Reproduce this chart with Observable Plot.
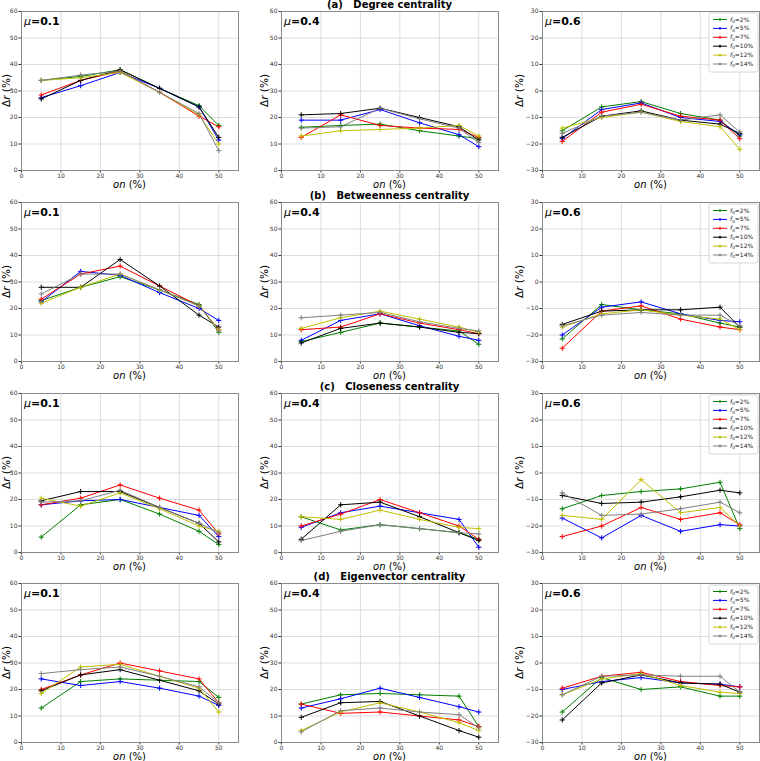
<!DOCTYPE html>
<html><head><meta charset="utf-8">
<script src="https://cdn.jsdelivr.net/npm/d3@7"></script>
<script src="https://cdn.jsdelivr.net/npm/@observablehq/plot@0.6"></script>
<style>
html,body{margin:0;padding:0;background:#fff;overflow:hidden;width:760px;height:761px;}
#root{position:relative;width:760px;height:761px;font-family:"DejaVu Sans",sans-serif;}
.panel{position:absolute;}
.panel svg{overflow:visible;display:block;}
</style></head><body><div id="root"></div>
<script>
// ---- data ----
const onValues = [5, 15, 25, 35, 45, 50];
const seriesNames = ["2%", "5%", "7%", "10%", "12%", "14%"];
const seriesColors = ["#008000", "#0000ff", "#ff0000", "#000000", "#bfbf00", "#808080"];
const xTicks = [0, 10, 20, 30, 40, 50];
const yTicksLow = [0, 10, 20, 30, 40, 50, 60];
const yTicksHigh = [-30, -20, -10, 0, 10, 20, 30];
const rowTitles = ["(a)   Degree centrality", "(b)   Betweenness centrality", "(c)   Closeness centrality", "(d)   Eigenvector centrality"];
const muLabels = ["0.1", "0.4", "0.6"];

// each: [green, blue, red, black, yellow, gray]
const degree01 = [
  [34, 35.5, 38, 31, 24.5, 17],
  [27.5, 32, 37, 31, 24, 11.5],
  [28.5, 34, 37.5, 29.5, 20.5, 16.5],
  [27, 34, 38, 31, 24, 12.5],
  [34, 35, 37, 29.5, 21, 10],
  [34, 36, 37.5, 29.5, 21.5, 7.5]
];
const degree04 = [
  [16.3, 17, 17.5, 15, 13, 12],
  [19, 19, 23, 18, 13.5, 9],
  [12.5, 21, 17, 16, 15.5, 12.5],
  [21, 21.5, 23.5, 20, 16.5, 11.5],
  [13, 15, 15.5, 16, 17, 13],
  [16, 16.5, 23.5, 19.5, 16, 10.5]
];
const degree06 = [
  [-15, -6, -4, -8.5, -11, -17],
  [-18, -7, -4.5, -10, -11.5, -16.5],
  [-19, -8, -5, -9.5, -11, -18],
  [-17.5, -9.5, -7.5, -11, -12.5, -16],
  [-14, -10, -8, -11.5, -13.5, -22],
  [-16, -9.5, -8, -11, -9, -15.5]
];
const between01 = [
  [23, 28, 32, 27, 21.5, 11],
  [22.5, 34, 32.5, 26, 20, 15.5],
  [23.5, 33, 36, 28.5, 21, 12],
  [28, 28, 38.5, 28.5, 17.5, 13],
  [22, 28, 33, 27, 21, 12],
  [25.5, 33, 33, 27, 21, 11.5]
];
const between04 = [
  [7.5, 11, 14.5, 13, 11.5, 6.5],
  [8, 15.5, 18, 13.5, 9.5, 8],
  [12, 13, 18, 14.5, 12, 10.5],
  [7, 12.5, 14.5, 13, 11, 10.5],
  [12.5, 16.5, 19, 16, 13, 11],
  [16.5, 17.5, 18.5, 15, 12.5, 11.5]
];
const between06 = [
  [-21.5, -8.5, -10.5, -12, -15.5, -17],
  [-20, -9.5, -7.5, -12, -14.5, -15],
  [-25, -11, -9, -14, -17, -18],
  [-16, -11, -10.5, -10.5, -9.5, -17],
  [-17, -12, -10.5, -12.5, -14, -18],
  [-16.5, -12.5, -11.5, -12.5, -12.5, -16.5]
];
const closeness01 = [
  [5.8, 18, 20, 14.5, 8, 3],
  [18, 19.5, 20, 17, 14, 6],
  [18, 20.5, 25.5, 20.5, 16, 7],
  [19.5, 23, 23, 17, 11, 4],
  [20.5, 17.5, 22.5, 16.5, 10, 8],
  [19, 19.5, 23.5, 17, 11, 7.5]
];
const closeness04 = [
  [13.5, 8.5, 10.5, 9, 7.5, 5],
  [9.5, 15, 17.5, 15, 12.5, 2],
  [10, 14.5, 20, 15, 10, 5],
  [5, 18, 19, 13.5, 7.5, 4.5],
  [13.5, 12.5, 16, 12.5, 9.5, 9],
  [4.5, 8, 10.5, 9, 7.5, 7]
];
const closeness06 = [
  [-13.5, -8.5, -7, -6, -3.5, -21],
  [-17, -24.5, -16, -22, -19.5, -20],
  [-24, -20, -13, -17.5, -15, -19.5],
  [-8.5, -11.5, -11, -9, -6.5, -7.5],
  [-16, -17.5, -2.5, -15, -13, -20],
  [-7.5, -16, -15.5, -13.5, -11, -15]
];
const eigen01 = [
  [13, 23, 24, 23.5, 23, 17],
  [24, 21.5, 23, 20.5, 17.5, 14],
  [20, 25.5, 30, 27, 24, 15],
  [19.5, 25.5, 27.5, 23.5, 19.5, 14.5],
  [18.5, 28.5, 29.5, 25, 20.5, 11.5],
  [26, 27.5, 28.5, 25, 21, 15]
];
const eigen04 = [
  [14.5, 18, 18.5, 18, 17.5, 6],
  [13, 16.5, 20.5, 17, 13.5, 11.5],
  [14.5, 11, 11.5, 10, 8.5, 6],
  [9.5, 15, 15.5, 10, 4.5, 2],
  [4.5, 11.5, 15, 11.5, 7.5, 4.5],
  [4, 12, 13, 11.5, 10.5, 5.5]
];
const eigen06 = [
  [-18.5, -5.5, -10, -9, -12.5, -12.5],
  [-10, -7, -5.5, -7.5, -8, -9],
  [-9.5, -5, -3.5, -7, -8.5, -9],
  [-21.5, -7.5, -4.5, -7.5, -8, -11],
  [-12, -6, -4, -8.5, -11, -11.5],
  [-12, -5, -4.5, -5, -5, -11]
];
const panelData = [
  [degree01, degree04, degree06],
  [between01, between04, between06],
  [closeness01, closeness04, closeness06],
  [eigen01, eigen04, eigen06]
];

// ---- layout ----
const colLeft = [21, 281, 542];
const rowTop = [11, 202, 393, 583];
const plotW = 217, plotH = 159;
const mL = 34, mT = 12, mR = 4, mB = 24;
const yLabelOffset = [11, 13, 19];

const root = document.getElementById("root");

function makePanel(r, c) {
  const series = panelData[r][c];
  const rows = [];
  series.forEach((vals, si) => vals.forEach((v, i) => rows.push({on: onValues[i], dr: v, series: seriesNames[si]})));
  const high = c === 2;
  const yTicks = high ? yTicksHigh : yTicksLow;
  const W = mL + plotW + mR, H = mT + plotH + mB;
  const svgEl = Plot.plot({
    width: W, height: H,
    marginLeft: mL, marginRight: mR, marginTop: mT, marginBottom: mB,
    style: {fontFamily: "DejaVu Sans", fontSize: "6px", background: "transparent", overflow: "visible", color: "#222"},
    x: {domain: [0, 55]},
    y: {domain: high ? [-30, 30] : [0, 60]},
    color: {domain: seriesNames, range: seriesColors},
    marks: [
      Plot.gridX(xTicks, {stroke: "#d4d4d4", strokeOpacity: 1, strokeWidth: 0.8}),
      Plot.gridY(yTicks, {stroke: "#d4d4d4", strokeOpacity: 1, strokeWidth: 0.8}),
      Plot.axisX(xTicks, {tickSize: 2.5, tickPadding: 1, label: null, fontSize: 6, color: "#333"}),
      Plot.axisY(yTicks, {tickSize: 2.5, tickPadding: 1.5, label: null, fontSize: 6, color: "#333"}),
      Plot.frame({stroke: "#8a8a8a", strokeWidth: 1}),
      Plot.line(rows, {x: "on", y: "dr", z: "series", stroke: "series", strokeWidth: 1}),
      Plot.dot(rows, {x: "on", y: "dr", stroke: "series", symbol: "plus", r: 1.8, strokeWidth: 1})
    ]
  });
  const div = document.createElement("div");
  div.className = "panel";
  div.style.left = (colLeft[c] - mL) + "px";
  div.style.top = (rowTop[r] - mT) + "px";
  div.style.width = W + "px";
  div.style.height = H + "px";
  div.appendChild(svgEl);
  root.appendChild(div);

  const svg = d3.select(svgEl);
  const ff = "DejaVu Sans";
  // x label
  const xl = svg.append("text").attr("x", mL + plotW / 2).attr("y", mT + plotH + 18)
    .attr("text-anchor", "middle").attr("font-family", ff).attr("font-size", 10).attr("fill", "#000");
  xl.append("tspan").attr("font-style", "italic").text("on");
  xl.append("tspan").text(" (%)");
  // y label
  const yx = mL - yLabelOffset[c], yy = mT + plotH / 2;
  const yl = svg.append("text").attr("transform", `translate(${yx},${yy}) rotate(-90)`)
    .attr("text-anchor", "middle").attr("font-family", ff).attr("font-size", 10.5).attr("fill", "#000");
  yl.append("tspan").text("Δ");
  yl.append("tspan").attr("font-style", "italic").text("r");
  yl.append("tspan").text(" (%)");
  // mu label
  const mu = svg.append("text").attr("x", mL + 3).attr("y", mT + 14).attr("text-anchor", "start")
    .attr("font-family", ff).attr("font-size", 11).attr("fill", "#000");
  mu.append("tspan").attr("font-style", "italic").text("μ");
  mu.append("tspan").attr("font-weight", "bold").text("=" + muLabels[c]);
  // row title
  if (c === 1) {
    svg.append("text").attr("x", mL + plotW / 2).attr("y", mT - 3.5)
      .attr("text-anchor", "middle").attr("font-family", ff).attr("font-size", 10)
      .attr("font-weight", "bold").attr("fill", "#000").style("white-space", "pre")
      .text(rowTitles[r]);
  }
  // legend
  if (c === 2) {
    const bw = 49, bh = 59;
    const lg = svg.append("g").attr("transform", `translate(${mL + plotW - bw - 1},${mT + 2})`);
    lg.append("rect").attr("width", bw).attr("height", bh).attr("rx", 2)
      .attr("fill", "#fff").attr("fill-opacity", 0.85).attr("stroke", "#cccccc").attr("stroke-width", 0.8);
    seriesNames.forEach((n, i) => {
      const cy = 6.5 + i * 8.9;
      const col = seriesColors[i];
      lg.append("line").attr("x1", 4).attr("x2", 18).attr("y1", cy).attr("y2", cy).attr("stroke", col).attr("stroke-width", 1);
      lg.append("path").attr("d", `M9.5,${cy}h3M11,${cy - 1.5}v3`).attr("stroke", col).attr("stroke-width", 1);
      const t = lg.append("text").attr("x", 21).attr("y", cy + 2).attr("text-anchor", "start")
        .attr("font-family", ff).attr("font-size", 6).attr("fill", "#222");
      t.append("tspan").attr("font-style", "italic").text("f");
      t.append("tspan").attr("font-size", 4.2).attr("dy", 1.2).text("0");
      t.append("tspan").attr("dy", -1.2).text("=" + n);
    });
  }
}

for (let r = 0; r < 4; r++) for (let c = 0; c < 3; c++) makePanel(r, c);
</script>
</body></html>
